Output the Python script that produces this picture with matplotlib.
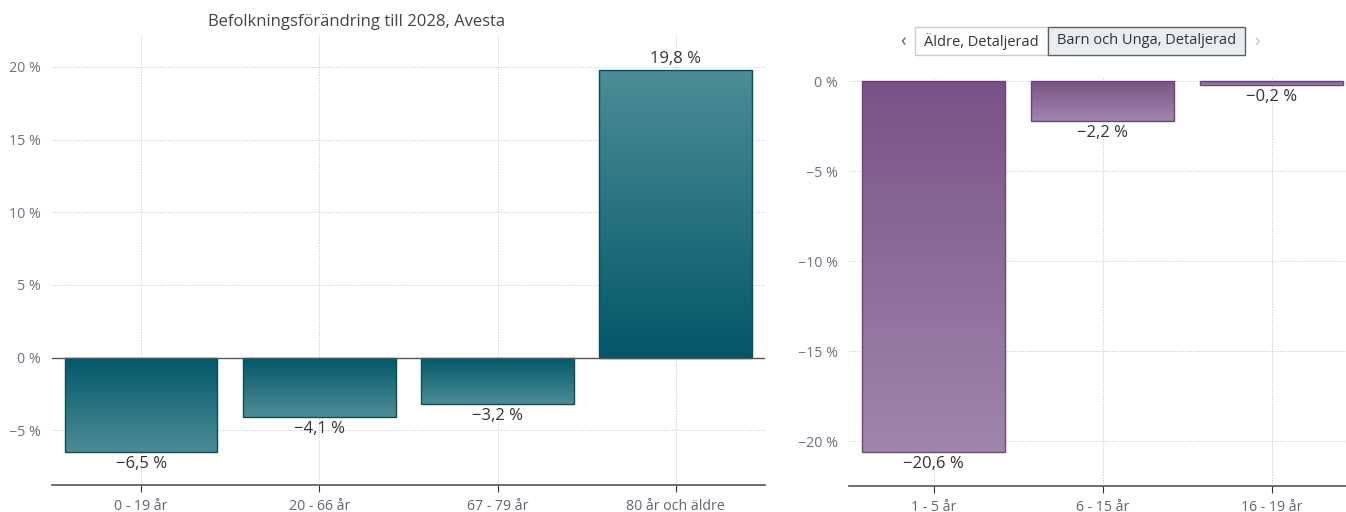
import numpy as np
import matplotlib
matplotlib.use("Agg")
import matplotlib.pyplot as plt
from matplotlib.colors import LinearSegmentedColormap
from matplotlib.patches import FancyBboxPatch

plt.rcParams['font.family'] = ['Open Sans', 'DejaVu Sans']

# data
left_cats = ['0 - 19 år', '20 - 66 år', '67 - 79 år', '80 år och äldre']
left_vals = [-6.5, -4.1, -3.2, 19.8]
left_ticks = [-5, 0, 5, 10, 15, 20]

right_cats = ['1 - 5 år', '6 - 15 år', '16 - 19 år']
right_vals = [-20.6, -2.2, -0.2]
right_ticks = [-20, -15, -10, -5, 0]

title = 'Befolkningsförändring till 2028, Avesta'
buttons = ['Äldre, Detaljerad', 'Barn och Unga, Detaljerad']


def pct(v):
    s = ('%g' % abs(v)).replace('.', ',')
    return ('\u2212' if v < 0 else '') + s + ' %'


def gradient_bars(ax, cats, vals, width, dark, light, edge):
    x = np.arange(len(cats))
    bars = ax.bar(x, vals, width=width, facecolor='none', edgecolor=edge,
                  linewidth=1.0, zorder=3)
    cmap = LinearSegmentedColormap.from_list('g', [dark, light])
    grad = np.linspace(0, 1, 256).reshape(-1, 1)
    for b, v in zip(bars, vals):
        x0 = b.get_x()
        x1 = x0 + b.get_width()
        if v >= 0:
            ext = (x0, x1, 0, v)
            img = grad
        else:
            ext = (x0, x1, v, 0)
            img = grad[::-1]
        im = ax.imshow(img, extent=ext, origin='lower', aspect='auto',
                       cmap=cmap, zorder=2, interpolation='bicubic')
        im.set_clip_path(b)
    return x, bars


def style(ax, x, cats, ticks, ylim, xlim):
    ax.set_xlim(*xlim)
    ax.set_ylim(*ylim)
    ax.set_xticks(x)
    ax.set_xticklabels(cats, fontsize=10.2, color='#5f6670')
    ax.set_yticks(ticks)
    ax.set_yticklabels([pct(t) for t in ticks], fontsize=10.3, color='#6b7280')
    for s in ['top', 'right', 'left']:
        ax.spines[s].set_visible(False)
    ax.spines['bottom'].set_color('#555555')
    ax.spines['bottom'].set_linewidth(1.2)
    ax.tick_params(axis='y', length=0, pad=8)
    ax.tick_params(axis='x', length=5, color='#333333', pad=5)
    ax.grid(True, color='#cccccc', linestyle=(0, (1.2, 1.5)), linewidth=0.7, zorder=0)
    ax.set_axisbelow(True)


def value_labels(ax, x, vals):
    for xi, v in zip(x, vals):
        if v >= 0:
            ax.annotate(pct(v), (xi, v), xytext=(0, 2), textcoords='offset points',
                        ha='center', va='bottom', fontsize=12, color='#333333', zorder=5)
        else:
            ax.annotate(pct(v), (xi, v), xytext=(0, -3), textcoords='offset points',
                        ha='center', va='top', fontsize=12, color='#333333', zorder=5)


fig = plt.figure(figsize=(13.46, 5.12), dpi=100)

# left chart
ax1 = fig.add_axes([0.0386, 0.0527, 0.5297, 0.879])
x1, _ = gradient_bars(ax1, left_cats, left_vals, 0.857, '#02576a', '#4c8d95', '#0b4e58')
style(ax1, x1, left_cats, left_ticks, (-8.77, 22.2), (-0.5, 3.5))
ax1.axhline(0, color='#555555', linewidth=1.0, zorder=4)
value_labels(ax1, x1, left_vals)
fig.text(357 / 1346, 1 - 22 / 512, title, ha='center', va='center',
         fontsize=12, color='#444444')

# right chart
ax2 = fig.add_axes([0.6308, 0.0514, 0.3692, 0.797])
x2, _ = gradient_bars(ax2, right_cats, right_vals, 0.85, '#795387', '#a086ab', '#6a4678')
style(ax2, x2, right_cats, right_ticks, (-22.46, 0.2), (-0.5, 2.44))
value_labels(ax2, x2, right_vals)

# navigation buttons above right chart
fig.text(903 / 1346, 1 - 41 / 512, '\u2039', ha='center', va='center', fontsize=13, color='#555555')
fig.text(1257 / 1346, 1 - 41 / 512, '\u203a', ha='center', va='center', fontsize=13, color='#bbbbbb')
bx = [915, 1048]
bw = [133, 197]
fills = ['#ffffff', '#e9edf0']
edges = ['#c5ccd3', '#5a6168']
for txt, x0, w, fc, ec in zip(buttons, bx, bw, fills, edges):
    r = FancyBboxPatch((x0 / 1346, 1 - 55 / 512), w / 1346, 28 / 512,
                       boxstyle='square,pad=0', transform=fig.transFigure,
                       facecolor=fc, edgecolor=ec, linewidth=1.0)
    fig.patches.append(r)
    fig.text((x0 + w / 2) / 1346, 1 - 41 / 512, txt, ha='center', va='center',
             fontsize=10.5, color='#333333')

fig.savefig('out.png', dpi=100)
